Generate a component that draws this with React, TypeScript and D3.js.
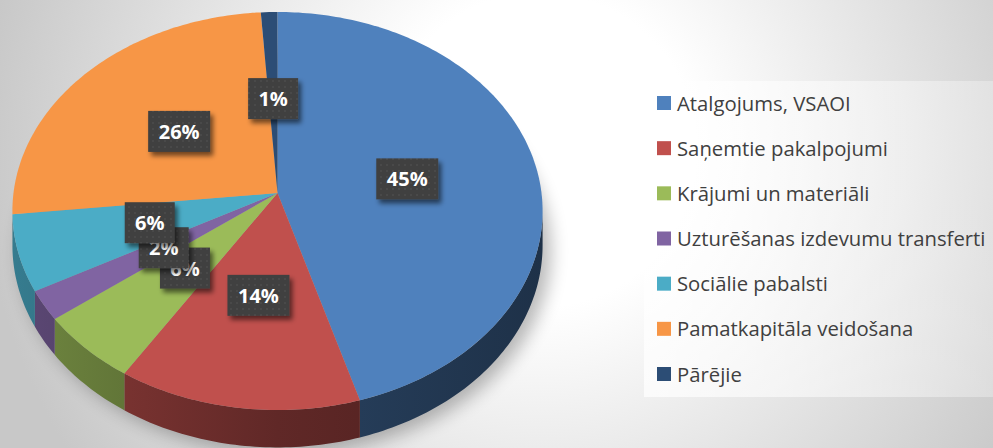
import React from 'react';
import * as d3 from 'd3';

// chart data (share of expenses, %)
const categories = [
  'Atalgojums, VSAOI',
  'Saņemtie pakalpojumi',
  'Krājumi un materiāli',
  'Uzturēšanas izdevumu transferti',
  'Sociālie pabalsti',
  'Pamatkapitāla veidošana',
  'Pārējie',
];
const values = [45.4, 13.6, 5.7, 2.4, 6.2, 25.6, 1.1];
const colors = ['#4f81bd', '#c0504d', '#9bbb59', '#8064a2', '#4bacc6', '#f79646', '#2c4d75'];

const W = 993, H = 448;

// perspective pie geometry
const cx = 277.5, cy = 193;
const A = 264, B = 197.4, k = 0.0905;
const depth = 34;

function proj(a: number, r: number, dz = 0): [number, number] {
  const u = r * Math.sin(a), v = r * Math.cos(a);
  const s = 1 / (1 + k * v);
  return [cx + A * u * s, cy - B * v * s + depth * s * dz];
}

function arcPts(a0: number, a1: number, dz: number) {
  const n = Math.max(2, Math.ceil(Math.abs(a1 - a0) / (Math.PI / 180)));
  const pts: [number, number][] = [];
  for (let i = 0; i <= n; i++) pts.push(proj(a0 + (a1 - a0) * i / n, 1, dz));
  return pts;
}

export default function App() {
  const pie = d3.pie<number>().sort(null).startAngle(0).endAngle(2 * Math.PI);
  const arcs = pie(values);
  const total = d3.sum(values);
  const line = d3.line();

  const aR = Math.acos(-k);
  const aL = 2 * Math.PI - aR;

  const sides = arcs.map((d, i) => {
    const s = Math.max(d.startAngle, aR), e = Math.min(d.endAngle, aL);
    if (e <= s) return null;
    const top = arcPts(s, e, 0);
    const bot = arcPts(e, s, 1);
    return { i, path: line([...top, ...bot])! + 'Z' };
  });

  const tops = arcs.map((d, i) => {
    const pts = [[cx, cy] as [number, number], ...arcPts(d.startAngle, d.endAngle, 0)];
    return line(pts)! + 'Z';
  });

  const labels = arcs.map((d, i) => {
    const mid = (d.startAngle + d.endAngle) / 2;
    const [x, y] = proj(mid, 0.5);
    const txt = d3.format('.0%')(d.data / total);
    const w = 12 * txt.length + 26;
    return { x, y, txt, w };
  });

  const legendY = d3.scalePoint<string>().domain(categories).range([103, 374]);

  const shadowPath = line(arcPts(0, 2 * Math.PI, 1))! + 'Z';

  return (
    <div style={{ position: 'absolute', left: 0, top: 0 }}>
      <svg width={W} height={H} style={{ display: 'block' }}>
        <defs>
          <radialGradient id="bg" cx="540" cy="150" r="560" gradientUnits="userSpaceOnUse">
            <stop offset="0" stopColor="#ffffff" />
            <stop offset="0.28" stopColor="#ffffff" />
            <stop offset="1" stopColor="#c8c8c8" />
          </radialGradient>
          <linearGradient id="leg" x1="0" y1="0" x2="1" y2="0">
            <stop offset="0" stopColor="#ffffff" stopOpacity={0.75} />
            <stop offset="1" stopColor="#ffffff" stopOpacity={0.3} />
          </linearGradient>
          <filter id="pieShadow" x="-20%" y="-20%" width="140%" height="140%">
            <feGaussianBlur stdDeviation="9" />
          </filter>
          <filter id="boxShadow" x="-30%" y="-30%" width="160%" height="160%">
            <feGaussianBlur in="SourceAlpha" stdDeviation="2.5" />
            <feOffset dx="3" dy="4" result="b" />
            <feComponentTransfer><feFuncA type="linear" slope="0.55" /></feComponentTransfer>
            <feMerge><feMergeNode /><feMergeNode in="SourceGraphic" /></feMerge>
          </filter>
          <pattern id="dots" width="6" height="6" patternUnits="userSpaceOnUse">
            <rect width="6" height="6" fill="#3f3f3f" />
            <circle cx="3" cy="3" r="1" fill="#4d4d4d" />
          </pattern>
          {colors.map((c, i) => {
            const base = d3.rgb(c);
            const f = (m: number) => d3.rgb(base.r * m, base.g * m, base.b * m).toString();
            return (
              <linearGradient key={i} id={'side' + i} gradientUnits="userSpaceOnUse" x1="12" y1="0" x2="543" y2="0">
                <stop offset="0" stopColor={f(0.72)} />
                <stop offset="0.5" stopColor={f(0.5)} />
                <stop offset="1" stopColor={f(0.38)} />
              </linearGradient>
            );
          })}
        </defs>

        <rect width={W} height={H} fill="url(#bg)" />

        {/* pie drop shadow */}
        <path d={shadowPath} transform="translate(8,6)" fill="#000" opacity={0.28} filter="url(#pieShadow)" />

        {sides.map(s => s && (
          <path key={'s' + s.i} d={s.path} fill={`url(#side${s.i})`} />
        ))}
        {tops.map((p, i) => (
          <path key={'t' + i} d={p} fill={colors[i]} />
        ))}

        {labels.map((l, i) => (
          <g key={'l' + i}>
            <rect x={l.x - l.w / 2} y={l.y - 20.5} width={l.w} height={41} fill="url(#dots)" filter="url(#boxShadow)" />
            <text x={l.x} y={l.y + 7.5} textAnchor="middle" fill="#ffffff"
              style={{ fontFamily: '"Open Sans", sans-serif', fontWeight: 700, fontSize: 20 }}>
              {l.txt}
            </text>
          </g>
        ))}

        {/* legend */}
        <rect x={644} y={81} width={W - 644} height={316} fill="url(#leg)" />
        {categories.map((c, i) => (
          <g key={c} transform={`translate(657,${legendY(c)})`}>
            <rect x={0} y={-7} width={14} height={14} fill={colors[i]} />
            <text x={20} y={7.5} fill="#404040"
              style={{ fontFamily: '"Open Sans", sans-serif', fontSize: 20.3 }}>
              {c}
            </text>
          </g>
        ))}
      </svg>
    </div>
  );
}
